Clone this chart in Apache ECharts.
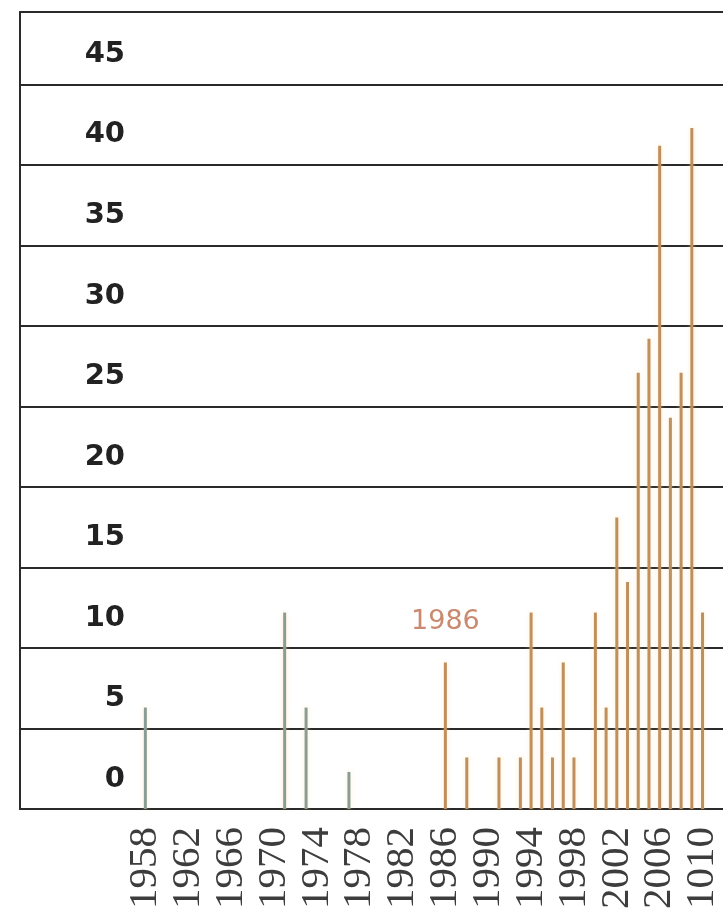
<!DOCTYPE html>
<html><head><meta charset="utf-8">
<script src="https://cdn.jsdelivr.net/npm/echarts@6/dist/echarts.min.js"></script>
<style>html,body{margin:0;padding:0;background:#fff}#c{width:723px;height:921px}</style>
</head><body><div id="c"></div>
<script>
const categories = ['1958','1959','1960','1961','1962','1963','1964','1965','1966','1967','1968','1969','1970','1971','1972','1973','1974','1975','1976','1977','1978','1979','1980','1981','1982','1983','1984','1985','1986','1987','1988','1989','1990','1991','1992','1993','1994','1995','1996','1997','1998','1999','2000','2001','2002','2003','2004','2005','2006','2007','2008','2009','2010'];
const counts = [6.3, 0,0,0,0,0,0,0,0,0,0,0,0, 12.2, 0, 6.3, 0,0,0, 2.3, 0,0,0,0,0,0,0,0,
  9.1, 0, 3.2, 0, 0, 3.2, 0, 3.2, 12.2, 6.3, 3.2, 9.1, 3.2, 0, 12.2, 6.3, 18.1, 14.1, 27.1, 29.2, 41.2, 24.3, 27.1, 42.3, 12.2];
const tickLabels = ['1958','1962','1966','1970','1974','1978','1982','1986','1990','1994','1998','2002','2006','1010'];
const yTicks = [0,5,10,15,20,25,30,35,40,45];
const splitYear = '1986';
const annotationText = '1986';
const annotationValue = 11.6;

const lineColor = '#2a2a2a';
const gray = '#8a9c96';
const orange = '#bf8f5e';
const chart = echarts.init(document.getElementById('c'), null, {renderer: 'canvas'});
const frameAxis = (pos) => ({
  gridIndex: 0, type: 'value', min: 0, max: 1, position: pos,
  axisLine: {show: true, lineStyle: {color: lineColor, width: 2}},
  axisTick: {show: false}, axisLabel: {show: false}, splitLine: {show: false}
});
chart.setOption({
  animation: false,
  backgroundColor: '#fff',
  grid: [
    {left: 20, right: 0, top: 12, bottom: 112},
    {left: 140, right: 11, top: 12, bottom: 112}
  ],
  xAxis: [
    frameAxis('bottom'),
    frameAxis('top'),
    {
      gridIndex: 1, type: 'category', data: categories, boundaryGap: true,
      axisLine: {show: false}, axisTick: {show: false}, splitLine: {show: false},
      axisLabel: {
        interval: 3, rotate: 90, margin: 18,
        fontFamily: 'Liberation Serif', fontSize: 41, color: '#3d3d3d',
        formatter: (v, i) => tickLabels[i / 4]
      }
    }
  ],
  yAxis: [
    {
      gridIndex: 0, type: 'value', min: 0, max: 49.5, interval: 5,
      axisLine: {show: true, lineStyle: {color: lineColor, width: 2}},
      axisTick: {show: false},
      splitLine: {show: true, lineStyle: {color: lineColor, width: 2}},
      axisLabel: {
        inside: true, margin: 105, align: 'right', verticalAlign: 'bottom',
        lineHeight: 60, showMaxLabel: false,
        fontFamily: 'DejaVu Sans', fontWeight: 'bold', fontSize: 29, color: '#222',
        formatter: v => yTicks.includes(v) ? String(v) : ''
      }
    },
    {gridIndex: 1, type: 'value', min: 0, max: 49.5, interval: 5, show: false}
  ],
  series: [{
    type: 'bar', xAxisIndex: 2, yAxisIndex: 1, data: counts, barWidth: 3,
    itemStyle: {
      color: p => (p.name < splitYear ? gray : orange),
      shadowBlur: 4, shadowColor: 'rgba(255,220,150,0.5)'
    },
    markPoint: {
      symbol: 'circle', symbolSize: 1,
      itemStyle: {color: 'rgba(0,0,0,0)', shadowBlur: 0},
      label: {show: true, position: 'inside', formatter: annotationText,
        fontFamily: 'DejaVu Sans', fontSize: 27, color: '#c98a6f'},
      data: [{coord: [splitYear, annotationValue]}]
    }
  }]
});
</script></body></html>
